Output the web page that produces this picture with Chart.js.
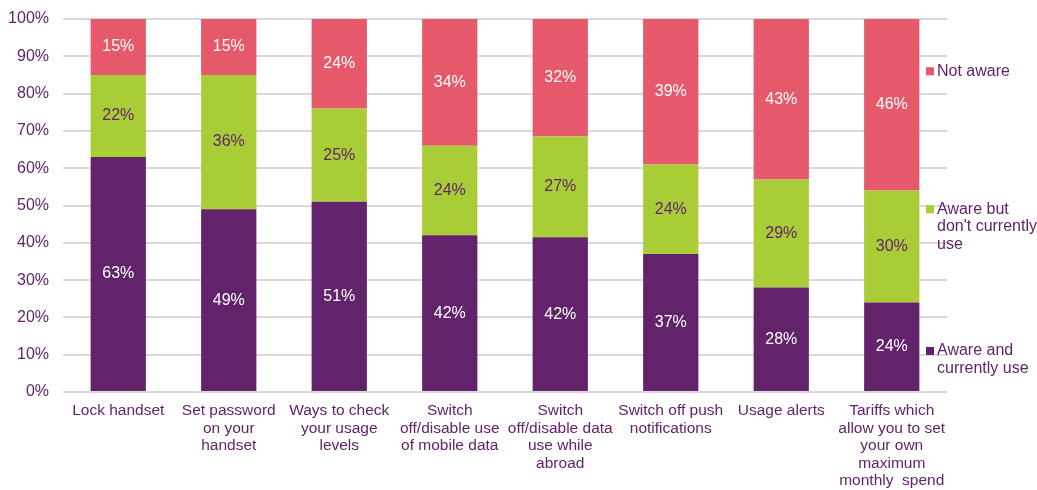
<!DOCTYPE html>
<html lang="en">
<head>
<meta charset="UTF-8">
<title>Awareness of features</title>
<script src="https://cdn.jsdelivr.net/npm/chart.js"></script>
<style>
  html, body { margin: 0; padding: 0; background: #fff; }
  #wrap { width: 1037px; height: 490px; }
</style>
</head>
<body>
<div id="wrap"><canvas id="awareChart" width="1037" height="490"></canvas></div>
<script>
var categories = [
    'Lock handset',
    ['Set password', 'on your', 'handset'],
    ['Ways to check', 'your usage', 'levels'],
    ['Switch', 'off/disable use', 'of mobile data'],
    ['Switch', 'off/disable data', 'use while', 'abroad'],
    ['Switch off push', 'notifications'],
    'Usage alerts',
    ['Tariffs which', 'allow you to set', 'your own', 'maximum', 'monthly  spend']
];
var awareUse = [63, 49, 51, 42, 41.5, 37, 28, 24];
var awareNotUse = [22, 36, 25, 24, 27, 24, 29, 30];
var notAware = [15, 15, 24, 34, 31.5, 39, 43, 46];
var yTicks = ['0%', '10%', '20%', '30%', '40%', '50%', '60%', '70%', '80%', '90%', '100%'];

var PURPLE = '#62236a';
var GREEN = '#a8cd37';
var PINK = '#e5596a';
var TEXT = '#62236a';
var FONT = '"Liberation Sans", Arial, sans-serif';

// value labels inside each segment
var segmentLabels = {
    id: 'segmentLabels',
    afterDatasetsDraw: function(chart) {
        var ctx = chart.ctx;
        ctx.save();
        ctx.font = '16px ' + FONT;
        ctx.textAlign = 'center';
        ctx.textBaseline = 'middle';
        chart.data.datasets.forEach(function(ds, i) {
            var meta = chart.getDatasetMeta(i);
            meta.data.forEach(function(bar, j) {
                var mid = (bar.y + bar.base) / 2;
                ctx.fillStyle = ds.labelColor;
                ctx.fillText(Math.round(ds.data[j]) + '%', bar.x, mid);
            });
        });
        ctx.restore();
    }
};

// legend on the right, each entry beside its own band
var sideLegend = {
    id: 'sideLegend',
    afterDraw: function(chart) {
        var ctx = chart.ctx;
        var y = chart.scales.y;
        var items = [
            { color: PINK, lines: ['Not aware'], at: 86 },
            { color: GREEN, lines: ['Aware but', "don't currently", 'use'], at: 49 },
            { color: PURPLE, lines: ['Aware and', 'currently use'], at: 11 }
        ];
        ctx.save();
        ctx.font = '16px ' + FONT;
        ctx.textBaseline = 'middle';
        ctx.textAlign = 'left';
        items.forEach(function(it) {
            var top = y.getPixelForValue(it.at);
            ctx.fillStyle = it.color;
            ctx.fillRect(926, top - 4, 8, 8);
            ctx.fillStyle = TEXT;
            it.lines.forEach(function(t, k) {
                ctx.fillText(t, 937, top + k * 17.5);
            });
        });
        ctx.restore();
    }
};

var ctx = document.getElementById('awareChart').getContext('2d');
new Chart(ctx, {
    type: 'bar',
    data: {
        labels: categories,
        datasets: [
            { label: 'Aware and currently use', data: awareUse, backgroundColor: PURPLE, labelColor: '#ffffff' },
            { label: "Aware but don't currently use", data: awareNotUse, backgroundColor: GREEN, labelColor: TEXT },
            { label: 'Not aware', data: notAware, backgroundColor: PINK, labelColor: '#ffffff' }
        ]
    },
    options: {
        responsive: false,
        animation: false,
        layout: { padding: { top: 19, right: 90, left: 0, bottom: 0 } },
        datasets: { bar: { barPercentage: 0.5, categoryPercentage: 1.0 } },
        plugins: {
            legend: { display: false },
            tooltip: { enabled: false }
        },
        scales: {
            x: {
                stacked: true,
                grid: { display: false, drawTicks: false },
                border: { display: false },
                ticks: {
                    color: TEXT,
                    font: { family: FONT, size: 15.5, lineHeight: 1.13 },
                    maxRotation: 0,
                    autoSkip: false,
                    padding: 10
                },
                afterFit: function(scale) { scale.height = 98; }
            },
            y: {
                stacked: true,
                min: 0,
                max: 100,
                grid: { color: '#d9d9d9', lineWidth: 2, drawTicks: false },
                border: { display: false },
                ticks: {
                    stepSize: 10,
                    color: TEXT,
                    font: { family: FONT, size: 16 },
                    padding: 14,
                    callback: function(v) { return yTicks[Math.round(v / 10)]; }
                },
                afterFit: function(scale) {
                    scale.width = 63;
                    scale.paddingTop = 0;
                }
            }
        }
    },
    plugins: [segmentLabels, sideLegend]
});
</script>
</body>
</html>
